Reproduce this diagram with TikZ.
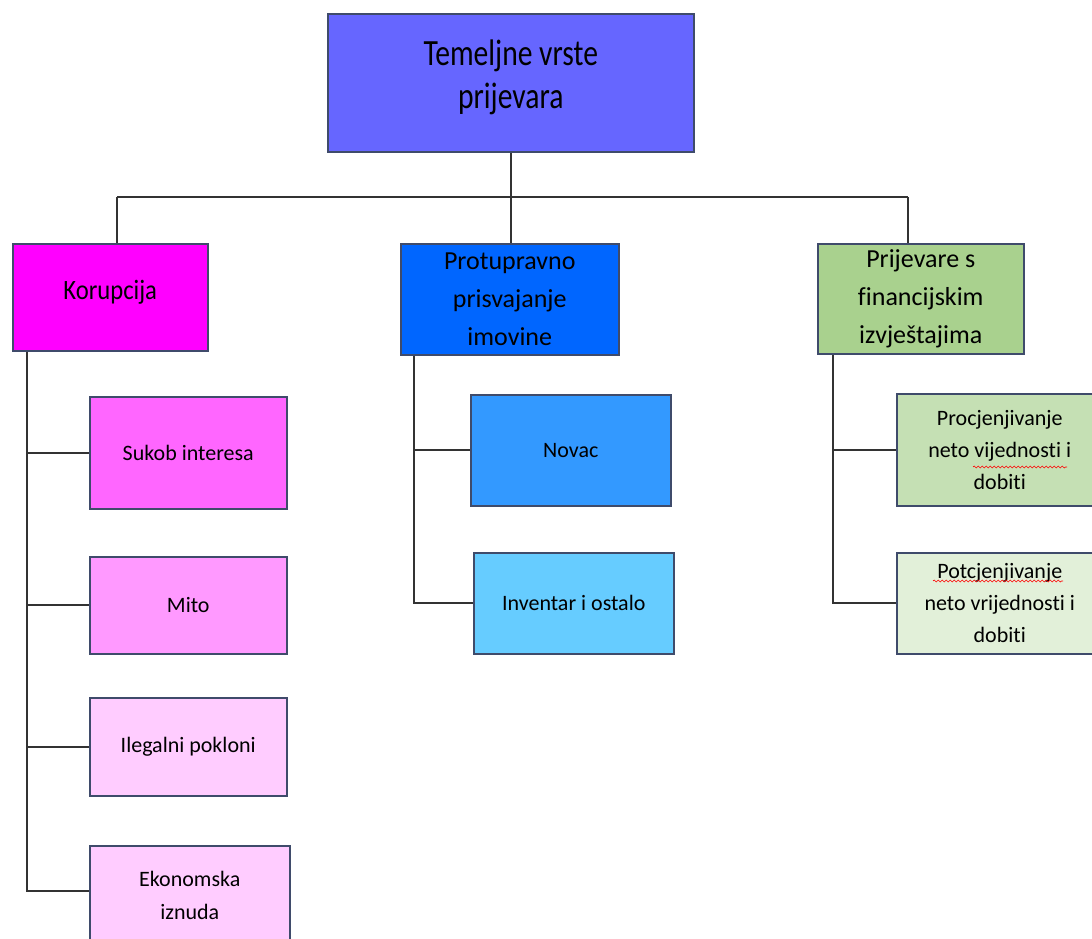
\documentclass[tikz,border=0pt]{standalone}
\usepackage{fontspec}
\setmainfont{Carlito}[Ligatures=NoCommon]
\newfontfamily\topfont{Carlito}[FakeStretch=0.8,Ligatures=NoCommon]
\newfontfamily\narrowfont{Carlito}[FakeStretch=0.88,Ligatures=NoCommon]
\usetikzlibrary{decorations.pathmorphing}
\definecolor{boxline}{HTML}{3F4B6B}
\definecolor{connline}{HTML}{333333}
\definecolor{cTop}{HTML}{6666FF}
\definecolor{cKor}{HTML}{FF00FF}
\definecolor{cPro}{HTML}{0066FF}
\definecolor{cPri}{HTML}{A9D18E}
\definecolor{cSuk}{HTML}{FF66FF}
\definecolor{cMit}{HTML}{FF99FF}
\definecolor{cIle}{HTML}{FFCCFF}
\definecolor{cEko}{HTML}{FFCCFF}
\definecolor{cNov}{HTML}{3399FF}
\definecolor{cInv}{HTML}{66CCFF}
\definecolor{cPrc}{HTML}{C5E0B4}
\definecolor{cPot}{HTML}{E2F0D9}
\begin{document}
\begin{tikzpicture}[x=1pt,y=-1pt,
  box/.style={draw=boxline, line width=1.5pt, inner sep=0pt, align=center,
    anchor=north west, text=black},
  lvltwo/.style={box, font=\fontsize{26}{38}\selectfont},
  lvlthree/.style={box, font=\fontsize{22}{33}\selectfont},
  conn/.style={draw=connline, line width=1.6pt},
  spell/.style={draw=red, line width=0.6pt, decorate,
    decoration={snake, segment length=4pt, amplitude=1pt}}]
\clip (0,0) rectangle (1092,938);
\fill[white] (0,0) rectangle (1092,938);
% top
\node[box, fill=cTop, minimum width=366pt, minimum height=138pt,
  font=\topfont\fontsize{37}{43}\selectfont, text depth=18pt] (top) at (327,13) {Temeljne vrste\\prijevara};
% level two
\node[lvltwo, fill=cKor, minimum width=195pt, minimum height=107pt,
  font=\narrowfont\fontsize{28}{38}\selectfont, text depth=14pt] (kor) at (12,243) {Korupcija};
\node[lvltwo, fill=cPro, minimum width=218pt, minimum height=111pt] (pro) at (400,243) {Protupravno\\prisvajanje\\imovine};
\node[lvltwo, fill=cPri, minimum width=206pt, minimum height=110pt] (pri) at (817,243) {Prijevare s\\financijskim\\izvještajima};
% level three, left
\node[lvlthree, fill=cSuk, minimum width=197pt, minimum height=112pt] (suk) at (89,396) {Sukob interesa};
\node[lvlthree, fill=cMit, minimum width=197pt, minimum height=97pt] (mit) at (89,556) {Mito};
\node[lvlthree, fill=cIle, minimum width=197pt, minimum height=98pt] (ile) at (89,697) {Ilegalni pokloni};
\node[lvlthree, fill=cEko, minimum width=200pt, minimum height=100pt] (eko) at (89,845) {Ekonomska\\iznuda};
% level three, middle
\node[lvlthree, fill=cNov, minimum width=200pt, minimum height=111pt] (nov) at (470,394) {Novac};
\node[lvlthree, fill=cInv, minimum width=200pt, minimum height=101pt] (inv) at (473,552) {Inventar i ostalo};
% level three, right
\node[lvlthree, fill=cPrc, minimum width=206pt, minimum height=112pt, font=\fontsize{22}{32}\selectfont] (prc) at (896,393) {Procjenjivanje\\neto vijednosti i\\dobiti};
\node[lvlthree, fill=cPot, minimum width=206pt, minimum height=101pt, font=\fontsize{22}{32}\selectfont] (pot) at (896,552) {Potcjenjivanje\\neto vrijednosti i\\dobiti};
% bus
\coordinate (busL) at (117,197);
\coordinate (busR) at (908,197);
\draw[conn] (top.south) -- (top.south |- pro.north);
\draw[conn] (busL) -- (busR);
\draw[conn] (busL) -- (busL |- kor.north);
\draw[conn] (busR) -- (busR |- pri.north);
% left spine
\coordinate (spL) at (27,0);
\coordinate (ekoB) at ([yshift=5pt]eko.west);
\draw[conn] (spL |- kor.south) -- (spL |- ekoB) -- (ekoB);
\draw[conn] (spL |- suk.west) -- (suk.west);
\draw[conn] (spL |- mit.west) -- (mit.west);
\draw[conn] (spL |- ile.west) -- (ile.west);
% middle spine
\coordinate (spM) at (414,0);
\draw[conn] (spM |- pro.south) -- (spM |- inv.west) -- (inv.west);
\draw[conn] (spM |- nov.west) -- (nov.west);
% right spine
\coordinate (spR) at (833,0);
\draw[conn] (spR |- pri.south) -- (spR |- pot.west) -- (pot.west);
\draw[conn] (spR |- prc.west) -- (prc.west);
% spelling marks
\draw[spell] (973,467) -- (1067,467);
\draw[spell] (933,581) -- (1063,581);
\end{tikzpicture}
\end{document}
